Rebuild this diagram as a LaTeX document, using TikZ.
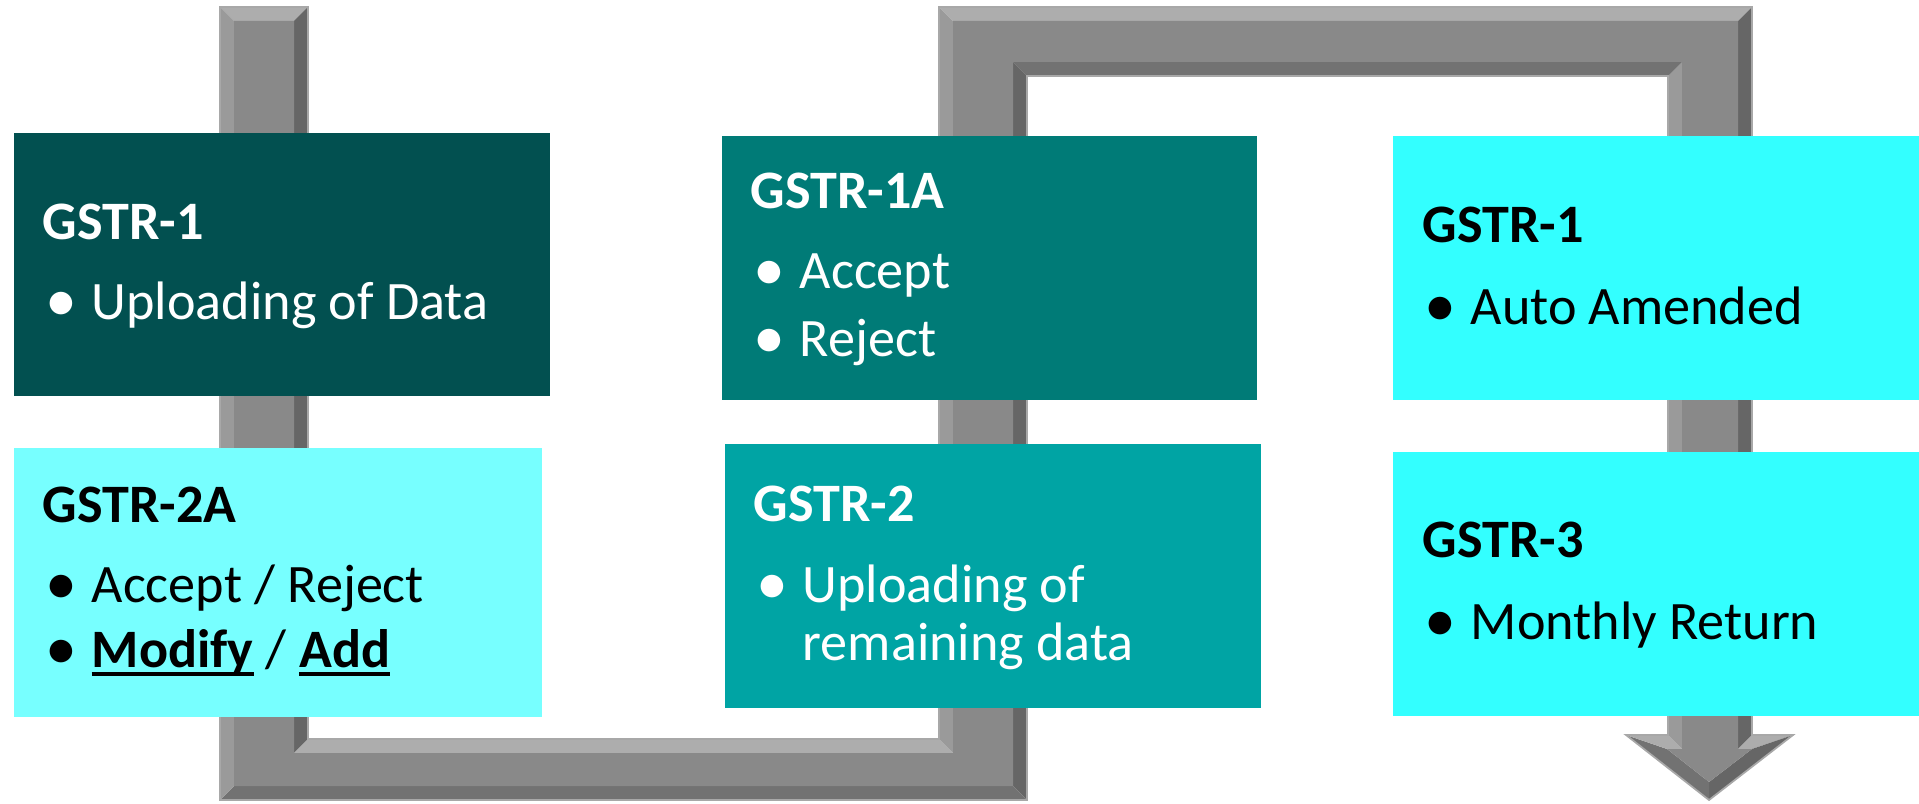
\documentclass[tikz,border=0pt]{standalone}
\usepackage{fontspec}
\setmainfont{Carlito}
\usetikzlibrary{fit}
\definecolor{boxdark}{HTML}{025050}
\definecolor{boxlight}{HTML}{77FFFF}
\definecolor{boxteal}{HTML}{007B77}
\definecolor{boxmid}{HTML}{00A4A4}
\definecolor{boxcyan}{HTML}{33FFFF}
\definecolor{pipemid}{HTML}{898989}
\definecolor{facetup}{HTML}{ADADAD}
\definecolor{facetleft}{HTML}{9A9A9A}
\definecolor{facetright}{HTML}{666666}
\definecolor{facetdown}{HTML}{727272}
\definecolor{pipeedge}{HTML}{A8A8A8}
\newlength\bulw
\setlength\bulw{0.46cm}
\newcommand\bul{\makebox[\bulw][l]{\raisebox{-0.02em}{\scalebox{1.18}{•}}}}
\newcommand\myul[1]{\setbox0\hbox{#1}\rlap{\rule[-0.14em]{\wd0}{0.06em}}\box0}
\tikzset{
  every node/.style={font=\fontsize{15.4}{18}\selectfont},
  panel/.style={inner sep=0pt, draw=none},
  ttl/.style={anchor=base west, inner sep=0pt, font=\fontsize{15.4}{18}\selectfont\bfseries},
  itm/.style={anchor=base west, inner sep=0pt},
  fup/.style={fill=facetup},
  fleft/.style={fill=facetleft},
  fright/.style={fill=facetright},
  fdown/.style={fill=facetdown},
}
\begin{document}
\begin{tikzpicture}[x=0.01cm, y=-0.01cm]
\useasboundingbox (0,0) rectangle (1919,804);
% ---------- pipe (outer outline)
\coordinate (P1) at (220,7);
\coordinate (P2) at (308,7);
\coordinate (P3) at (308,739);
\coordinate (P4) at (939,739);
\coordinate (P5) at (939,7);
\coordinate (P6) at (1752,7);
\coordinate (P7) at (1752,735);
\coordinate (P8) at (1793,735);
\coordinate (P9) at (1709,800);
\coordinate (P10) at (1626,735);
\coordinate (P11) at (1668,735);
\coordinate (P12) at (1668,76);
\coordinate (P13) at (1027,76);
\coordinate (P14) at (1027,800);
\coordinate (P15) at (220,800);
% inset outline
\coordinate (Q1) at (234,21);
\coordinate (Q2) at (294,21);
\coordinate (Q3) at (294,753);
\coordinate (Q4) at (953,753);
\coordinate (Q5) at (953,21);
\coordinate (Q6) at (1738,21);
\coordinate (Q7) at (1738,749);
\coordinate (Q8) at (1752,749);
\coordinate (Q9) at (1709,782);
\coordinate (Q10) at (1667,749);
\coordinate (Q11) at (1682,749);
\coordinate (Q12) at (1682,62);
\coordinate (Q13) at (1013,62);
\coordinate (Q14) at (1013,786);
\coordinate (Q15) at (234,786);
% facets
\fill[fup]    (P1)--(P2)--(Q2)--(Q1)--cycle;
\fill[fright] (P2)--(P3)--(Q3)--(Q2)--cycle;
\fill[fup]    (P3)--(P4)--(Q4)--(Q3)--cycle;
\fill[fleft]  (P4)--(P5)--(Q5)--(Q4)--cycle;
\fill[fup]    (P5)--(P6)--(Q6)--(Q5)--cycle;
\fill[fright] (P6)--(P7)--(Q7)--(Q6)--cycle;
\fill[fup]    (P7)--(P8)--(Q8)--(Q7)--cycle;
\fill[fright] (P8)--(P9)--(Q9)--(Q8)--cycle;
\fill[fdown]  (P9)--(P10)--(Q10)--(Q9)--cycle;
\fill[fup]    (P10)--(P11)--(Q11)--(Q10)--cycle;
\fill[fleft]  (P11)--(P12)--(Q12)--(Q11)--cycle;
\fill[fdown]  (P12)--(P13)--(Q13)--(Q12)--cycle;
\fill[fright] (P13)--(P14)--(Q14)--(Q13)--cycle;
\fill[fdown]  (P14)--(P15)--(Q15)--(Q14)--cycle;
\fill[fleft]  (P15)--(P1)--(Q1)--(Q15)--cycle;
\fill[pipemid] (Q1)--(Q2)--(Q3)--(Q4)--(Q5)--(Q6)--(Q7)--(Q8)--(Q9)--(Q10)--(Q11)--(Q12)--(Q13)--(Q14)--(Q15)--cycle;
\draw[pipeedge, line width=0.5pt] (P1)--(P2)--(P3)--(P4)--(P5)--(P6)--(P7)--(P8)--(P9)--(P10)--(P11)--(P12)--(P13)--(P14)--(P15)--cycle;
% ---------- boxes
\node[panel, fill=boxdark,  fit={(14,133) (550,396)}] (b1) {};
\node[panel, fill=boxlight, fit={(14,448) (542,717)}] (b2) {};
\node[panel, fill=boxteal,  fit={(722,136) (1257,400)}] (b3) {};
\node[panel, fill=boxmid,   fit={(725,444) (1261,708)}] (b4) {};
\node[panel, fill=boxcyan,  fit={(1393,136) (1919,400)}] (b5) {};
\node[panel, fill=boxcyan,  fit={(1393,452) (1919,716)}] (b6) {};
% ---------- texts
\node[ttl, text=white] (t1) at (42,240) {GSTR-1};
\node[itm, text=white] (t1a) at (45,320) {\bul Uploading of Data};
\node[ttl, text=black] (t2) at (42,523) {GSTR-2A};
\node[itm, text=black] (t2a) at (45,603) {\bul Accept / Reject};
\node[itm, text=black] (t2b) at (45,668) {\bul\textbf{\myul{Modify}} / \textbf{\myul{Add}}};
\node[ttl, text=white] (t3) at (750,209) {GSTR-1A};
\node[itm, text=white] (t3a) at (753,289) {\bul Accept};
\node[itm, text=white] (t3b) at (753,357) {\bul Reject};
\node[ttl, text=white] (t4) at (753,522) {GSTR-2};
\node[itm, text=white] (t4a) at (756,603) {\bul Uploading of};
\node[itm, text=white] (t4b) at (802,661) {remaining data};
\node[ttl, text=black] (t5) at (1422,243) {GSTR-1};
\node[itm, text=black] (t5a) at (1424,325) {\bul Auto Amended};
\node[ttl, text=black] (t6) at (1422,558) {GSTR-3};
\node[itm, text=black] (t6a) at (1424,640) {\bul Monthly Return};
\end{tikzpicture}
\end{document}
